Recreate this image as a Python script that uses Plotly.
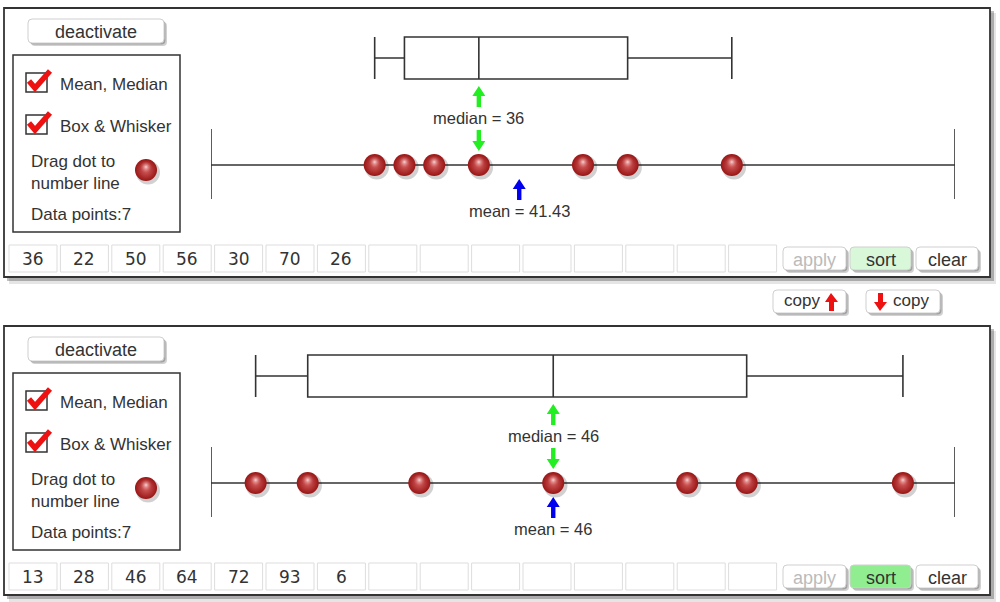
import plotly.graph_objects as go
import statistics

# ---------------- data ----------------
top_values = [36, 22, 50, 56, 30, 70, 26]
bottom_values = [13, 28, 46, 64, 72, 93, 6]
number_line_min = 0
number_line_max = 100
n_cells = 15

panels = [top_values, bottom_values]
sort_active = [False, True]

TXT = "#333333"
LINE = "#333333"
FONT = "Liberation Sans, Arial, Helvetica, sans-serif"
CELLFONT = "DejaVu Sans, Verdana, sans-serif"

NL_DOMAIN = [0.211, 0.955]
UNITS_PER_PX = (number_line_max - number_line_min) / ((NL_DOMAIN[1] - NL_DOMAIN[0]) * 1000)

shapes = []
annotations = []
traces = []


def rrect(x0, y0, x1, y1, r=4):
    return (f"M{x0+r},{y0} L{x1-r},{y0} Q{x1},{y0} {x1},{y0+r} L{x1},{y1-r} "
            f"Q{x1},{y1} {x1-r},{y1} L{x0+r},{y1} Q{x0},{y1} {x0},{y1-r} "
            f"L{x0},{y0+r} Q{x0},{y0} {x0+r},{y0} Z")


def button(x0, y0, x1, y1, text, fill="white", tcolor=TXT, size=18):
    shapes.append(dict(type="path", path=rrect(x0 + 3, y0 + 3, x1 + 3, y1 + 3),
                       xref="x", yref="y", fillcolor="rgba(0,0,0,0.18)",
                       line=dict(width=0), layer="below"))
    shapes.append(dict(type="path", path=rrect(x0 + 1.5, y0 + 1.5, x1 + 1.5, y1 + 1.5),
                       xref="x", yref="y", fillcolor="rgba(0,0,0,0.22)",
                       line=dict(width=0), layer="below"))
    shapes.append(dict(type="path", path=rrect(x0, y0, x1, y1), xref="x", yref="y",
                       fillcolor=fill, line=dict(color="#cfcfcf", width=1), layer="below"))
    if text:
        annotations.append(dict(x=(x0 + x1) / 2, y=(y0 + y1) / 2 + 1, xref="x", yref="y",
                                text=text, showarrow=False,
                                font=dict(family=FONT, size=size, color=tcolor)))


def label(x, y, text, size=17, anchor="left", color=TXT, family=FONT):
    annotations.append(dict(x=x, y=y, xref="x", yref="y", text=text, showarrow=False,
                            xanchor=anchor, yanchor="middle",
                            font=dict(family=family, size=size, color=color)))


def checkbox(x0, y0):
    shapes.append(dict(type="rect", x0=x0, y0=y0, x1=x0 + 21, y1=y0 + 19, xref="x", yref="y",
                       line=dict(color=LINE, width=1.5), fillcolor="white", layer="below"))
    shapes.append(dict(type="path",
                       path=f"M{x0+3},{y0+8} L{x0+9},{y0+15} L{x0+24},{y0-2}",
                       xref="x", yref="y", line=dict(color="#ee1111", width=5.5),
                       layer="below"))


def sphere_markers(xs, ys, xaxis, dx_shadow):
    out = []
    out.append(go.Scatter(x=[x + dx_shadow for x in xs], y=[y + 2.5 for y in ys],
                          mode="markers", xaxis=xaxis, yaxis="y", cliponaxis=False,
                          marker=dict(size=24, color="rgba(0,0,0,0.18)", line=dict(width=0)),
                          hoverinfo="skip", showlegend=False))
    out.append(go.Scatter(x=xs, y=ys, mode="markers", xaxis=xaxis, yaxis="y",
                          cliponaxis=False,
                          marker=dict(size=22, color="#991515", line=dict(width=0),
                                      gradient=dict(type="radial", color="#d66060")),
                          hoverinfo="skip", showlegend=False))
    out.append(go.Scatter(x=xs, y=[y - 3 for y in ys], mode="markers", xaxis=xaxis,
                          yaxis="y", cliponaxis=False,
                          marker=dict(size=12, color="rgba(214,96,96,0)", line=dict(width=0),
                                      gradient=dict(type="radial",
                                                    color="rgba(255,228,228,0.9)")),
                          hoverinfo="skip", showlegend=False))
    return out


def arrow(xv, y_tip, direction, color, length=21, head_h=10, head_w=6.5, shaft_w=2.2):
    """Vertical arrow at data value xv (number line units); direction -1 = up, +1 = down."""
    hw = head_w * UNITS_PER_PX
    sw = shaft_w * UNITS_PER_PX
    s = -direction
    yb = y_tip + s * head_h
    ye = y_tip + s * length
    path = (f"M{xv},{y_tip} L{xv - hw},{yb} L{xv - sw},{yb} L{xv - sw},{ye} "
            f"L{xv + sw},{ye} L{xv + sw},{yb} L{xv + hw},{yb} Z")
    shapes.append(dict(type="path", path=path, xref="x2", yref="y",
                       fillcolor=color, line=dict(width=0)))


def fmt(v):
    return f"{v:.2f}".rstrip("0").rstrip(".")


for p, values in enumerate(panels):
    dy = 318 * p
    # panel frame with shadow
    shapes.append(dict(type="rect", x0=9, y0=13 + dy, x1=996, y1=284 + dy, xref="x", yref="y",
                       fillcolor="rgba(0,0,0,0.10)", line=dict(width=0), layer="below"))
    shapes.append(dict(type="rect", x0=7, y0=11 + dy, x1=994, y1=281 + dy, xref="x", yref="y",
                       fillcolor="rgba(0,0,0,0.25)", line=dict(width=0), layer="below"))
    shapes.append(dict(type="rect", x0=4, y0=8 + dy, x1=990, y1=277 + dy, xref="x", yref="y",
                       fillcolor="white", line=dict(color=LINE, width=1.8), layer="below"))

    button(28, 19 + dy, 164, 43 + dy, "deactivate", size=18)

    # legend box
    shapes.append(dict(type="rect", x0=13, y0=55 + dy, x1=180, y1=232 + dy, xref="x", yref="y",
                       fillcolor="white", line=dict(color=LINE, width=1.5), layer="below"))
    checkbox(26, 73 + dy)
    label(58, 84 + dy, "Mean, Median")
    checkbox(26, 115 + dy)
    label(58, 126 + dy, "Box & Whisker")
    label(29, 161 + dy, "Drag dot to")
    label(29, 183 + dy, "number line")
    traces.extend(sphere_markers([146], [170 + dy], "x", 2))
    label(29, 214 + dy, f"Data points:{len(values)}")

    # data entry cells
    for i in range(n_cells):
        cx0 = 9 + i * 51.4
        shapes.append(dict(type="rect", x0=cx0, y0=245 + dy, x1=cx0 + 48, y1=272 + dy,
                           xref="x", yref="y", fillcolor="white",
                           line=dict(color="#dddddd", width=1), layer="below"))
        if i < len(values):
            label(cx0 + 24, 259 + dy, str(values[i]), size=17, anchor="center",
                  family=CELLFONT)

    button(783, 247 + dy, 846, 270 + dy, "apply", tcolor="#bbbbbb")
    button(850, 247 + dy, 911, 270 + dy, "sort",
           fill="#90ee90" if sort_active[p] else "#d9f7d9")
    button(916, 247 + dy, 978, 270 + dy, "clear")

    # number line (below the dots)
    yl = 165 + dy
    shapes.append(dict(type="line", x0=number_line_min, x1=number_line_max, y0=yl, y1=yl,
                       xref="x2", yref="y", line=dict(color=LINE, width=1.6), layer="below"))
    for xv in (number_line_min, number_line_max):
        shapes.append(dict(type="line", x0=xv, x1=xv, y0=129 + dy, y1=199 + dy,
                           xref="x2", yref="y", line=dict(color=LINE, width=1.6),
                           layer="below"))

    # box and whisker
    traces.append(go.Box(x=values, y0=58 + dy, orientation="h", xaxis="x2", yaxis="y",
                         width=42, whiskerwidth=1, quartilemethod="exclusive",
                         boxpoints=False, fillcolor="white",
                         line=dict(color=LINE, width=1.6), hoverinfo="skip",
                         showlegend=False))

    # data dots
    n = len(values)
    traces.extend(sphere_markers(values, [yl] * n, "x2", 0.3))

    med = statistics.median(values)
    mean = sum(values) / n
    green = "#22ee22"
    blue = "#0000ee"
    arrow(med, 86 + dy, -1, green)
    arrow(med, 151 + dy, +1, green)
    annotations.append(dict(x=med, y=118 + dy, xref="x2", yref="y",
                            text=f"median = {fmt(med)}", showarrow=False,
                            font=dict(family=FONT, size=16.5, color=TXT)))
    arrow(mean, 179 + dy, -1, blue)
    annotations.append(dict(x=mean, y=211 + dy, xref="x2", yref="y",
                            text=f"mean = {fmt(mean)}", showarrow=False,
                            font=dict(family=FONT, size=16.5, color=TXT)))

# copy buttons between panels
button(773, 290, 846, 313, "", size=17)
label(782, 300, "copy", size=17)
shapes.append(dict(type="path", path="M831,293 L838,302 L834,302 L834,311 L829,311 L829,302 L825,302 Z",
                   xref="x", yref="y", fillcolor="#ee1111", line=dict(width=0)))
button(866, 290, 940, 313, "", size=17)
label(891, 300, "copy", size=17)
shapes.append(dict(type="path", path="M880,311 L887,302 L883,302 L883,293 L878,293 L878,302 L874,302 Z",
                   xref="x", yref="y", fillcolor="#ee1111", line=dict(width=0)))

fig = go.Figure(data=traces)
fig.update_layout(
    width=1000, height=602, autosize=False,
    margin=dict(l=0, r=0, t=0, b=0, pad=0),
    paper_bgcolor="white", plot_bgcolor="rgba(0,0,0,0)",
    showlegend=False,
    xaxis=dict(range=[0, 1000], domain=[0, 1], visible=False, fixedrange=True),
    yaxis=dict(range=[602, 0], domain=[0, 1], visible=False, fixedrange=True),
    xaxis2=dict(range=[number_line_min, number_line_max], domain=NL_DOMAIN,
                anchor="y", visible=False, fixedrange=True),
    shapes=shapes,
    annotations=annotations,
    boxmode="overlay",
)
fig.write_html("out.html", config={"displayModeBar": False},
               post_script="document.body.style.margin='0';document.body.style.overflow='hidden';")
